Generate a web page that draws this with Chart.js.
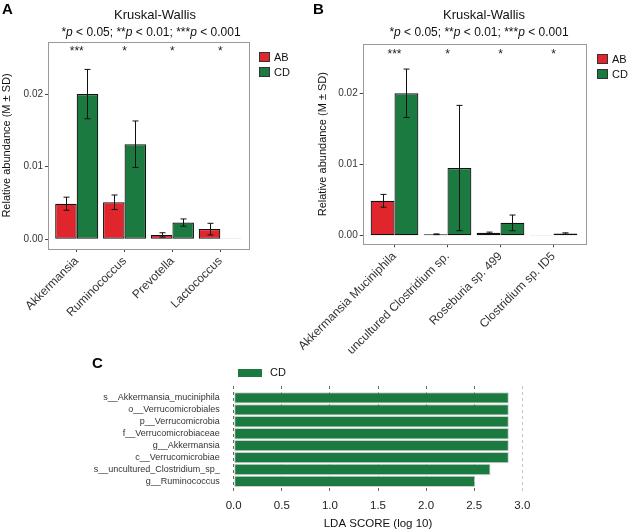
<!DOCTYPE html>
<html>
<head>
<meta charset="utf-8">
<script src="https://cdn.jsdelivr.net/npm/chart.js@4"></script>
<style>
  body { margin: 0; background: #fff; font-family: "Liberation Sans", Arial, sans-serif; }
  #wrap { position: relative; width: 630px; height: 531px; overflow: hidden; }
  canvas { position: absolute; }
  .tag { position: absolute; font-weight: bold; font-size: 15px; line-height: 1; color: #000; }
  .ttl { position: absolute; white-space: nowrap; transform: translateX(-50%); color: #111; }
  .t1 { font-size: 13px; line-height: 15px; }
  .t2 { font-size: 12px; line-height: 14px; }
</style>
</head>
<body>
<div id="wrap">
  <canvas id="chart-lda" width="630" height="179" style="left:0;top:352px"></canvas>
  <canvas id="chart-genus" width="310" height="372" style="left:0;top:0"></canvas>
  <canvas id="chart-species" width="380" height="372" style="left:250px;top:0"></canvas>
  <div class="tag" style="left:2px;top:1px">A</div>
  <div class="ttl t1" style="left:155px;top:7px">Kruskal-Wallis</div>
  <div class="ttl t2" style="left:151px;top:25px">*<i>p</i> &lt; 0.05; **<i>p</i> &lt; 0.01; ***<i>p</i> &lt; 0.001</div>
  <div class="tag" style="left:313px;top:1px">B</div>
  <div class="ttl t1" style="left:484px;top:7px">Kruskal-Wallis</div>
  <div class="ttl t2" style="left:479px;top:25px">*<i>p</i> &lt; 0.05; **<i>p</i> &lt; 0.01; ***<i>p</i> &lt; 0.001</div>
  <div class="tag" style="left:92px;top:355px">C</div>
</div>
<script>
// Panel A: genus level
const genusCats = ['Akkermansia', 'Ruminococcus', 'Prevotella', 'Lactococcus'];
const genusAB = [0.0049, 0.0051, 0.0006, 0.0014];
const genusABsd = [0.0009, 0.0010, 0.0003, 0.0008];
const genusCD = [0.0200, 0.0131, 0.0023, 0.00005];
const genusCDsd = [0.0034, 0.0032, 0.0005, 0];
const genusStars = ['***', '*', '*', '*'];

// Panel B: species level
const speciesCats = ['Akkermansia Muciniphila', 'uncultured Clostridium sp.', 'Roseburia sp. 499', 'Clostridium sp. ID5'];
const speciesAB = [0.0049, 0.0002, 0.0004, 0.00003];
const speciesABsd = [0.0009, 0.00005, 0.0001, 0];
const speciesCD = [0.0200, 0.0095, 0.0018, 0.0003];
const speciesCDsd = [0.0034, 0.0088, 0.0011, 0.0001];
const speciesStars = ['***', '*', '*', '*'];

// Panel C: LEfSe
const ldaLabels = [
  's__Akkermansia_muciniphila',
  'o__Verrucomicrobiales',
  'p__Verrucomicrobia',
  'f__Verrucomicrobiaceae',
  'g__Akkermansia',
  'c__Verrucomicrobiae',
  's__uncultured_Clostridium_sp_',
  'g__Ruminococcus'
];
const ldaScores = [2.86, 2.86, 2.86, 2.86, 2.86, 2.86, 2.67, 2.51];

const RED = '#e1252c';
const GREEN = '#1b7a3f';
const FONT = '"Liberation Sans", Arial, sans-serif';

Chart.defaults.font.family = FONT;

// Error bars (mean ± SD)
const errorBars = {
  id: 'errorBars',
  afterDatasetsDraw(chart) {
    const ctx = chart.ctx;
    const y = chart.scales.y;
    ctx.save();
    ctx.strokeStyle = '#111';
    ctx.lineWidth = 1;
    chart.data.datasets.forEach((ds, i) => {
      const meta = chart.getDatasetMeta(i);
      meta.data.forEach((bar, j) => {
        const sd = ds.errors[j];
        if (!sd) return;
        const v = ds.data[j].y;
        const top = y.getPixelForValue(v + sd);
        const bot = y.getPixelForValue(v - sd);
        const x = Math.round(bar.x) + 0.5;
        ctx.beginPath();
        ctx.moveTo(x, top); ctx.lineTo(x, bot);
        ctx.moveTo(x - 3, top); ctx.lineTo(x + 3, top);
        ctx.moveTo(x - 3, bot); ctx.lineTo(x + 3, bot);
        ctx.stroke();
      });
    });
    ctx.restore();
  }
};

// Panel frame, significance stars and legend
const panelDecor = {
  id: 'panelDecor',
  afterDraw(chart, args, opts) {
    const ctx = chart.ctx;
    const a = chart.chartArea;
    ctx.save();
    ctx.strokeStyle = '#9a9a9a';
    ctx.lineWidth = 1;
    ctx.strokeRect(Math.round(a.left) + 0.5, Math.round(a.top) + 0.5, Math.round(a.width), Math.round(a.height));

    ctx.fillStyle = '#222';
    ctx.font = '12px ' + FONT;
    ctx.textAlign = 'center';
    ctx.textBaseline = 'alphabetic';
    opts.stars.forEach((s, i) => {
      ctx.fillText(s, chart.scales.x.getPixelForValue(i), a.top + opts.starY);
    });

    ctx.font = '11px ' + FONT;
    ctx.textBaseline = 'middle';
    chart.data.datasets.forEach((ds, i) => {
      const bx = Math.round(a.right + opts.legendX);
      const by = Math.round(a.top + opts.legendY + i * 15);
      ctx.fillStyle = ds.backgroundColor;
      ctx.fillRect(bx, by, 11, 10);
      ctx.strokeStyle = '#333';
      ctx.strokeRect(bx + 0.5, by + 0.5, 10, 9);
      ctx.fillStyle = '#111';
      ctx.textAlign = 'left';
      ctx.fillText(ds.label, bx + 15, by + 5.5);
    });
    ctx.restore();
  }
};

function abundanceChart(id, cats, ab, abSd, cd, cdSd, stars, L) {
  const barOpts = {
    categoryPercentage: 0.9,
    barPercentage: 1,
    borderColor: '#111',
    borderWidth: 1.2,
    borderSkipped: false,
    inflateAmount: 0
  };
  return new Chart(document.getElementById(id), {
    type: 'bar',
    data: {
      datasets: [
        { label: 'AB', data: ab.map((v, i) => ({ x: i, y: v })), errors: abSd, backgroundColor: RED, ...barOpts },
        { label: 'CD', data: cd.map((v, i) => ({ x: i, y: v })), errors: cdSd, backgroundColor: GREEN, ...barOpts }
      ]
    },
    options: {
      responsive: false,
      animation: false,
      events: [],
      layout: { padding: { top: L.top, right: L.right, left: L.left, bottom: 0 } },
      plugins: {
        legend: { display: false },
        tooltip: { enabled: false },
        panelDecor: { stars, starY: L.starY, legendX: L.legendX, legendY: L.legendY }
      },
      scales: {
        x: {
          type: 'linear',
          offset: false,
          min: -0.6,
          max: cats.length - 0.4,
          afterFit: (s) => { s.height = L.xHeight; s.paddingLeft = 0; s.paddingRight = 0; },
          grid: { display: true, offset: false, drawOnChartArea: false, tickLength: 3, color: '#444' },
          border: { display: false },
          ticks: {
            stepSize: 1,
            includeBounds: false,
            autoSkip: false,
            minRotation: 45,
            maxRotation: 45,
            padding: 2,
            color: '#333',
            font: { size: 12 },
            callback: (v) => cats[v]
          }
        },
        y: {
          min: L.yMin,
          max: L.yMax,
          afterFit: (s) => { s.width = L.yWidth; },
          grid: { display: true, drawOnChartArea: false, tickLength: 3, color: '#444' },
          border: { display: false },
          title: {
            display: true,
            text: 'Relative abundance (M ± SD)',
            color: '#111',
            font: { size: 11 },
            padding: { top: L.titlePad, bottom: 0 }
          },
          ticks: {
            stepSize: 0.01,
            includeBounds: false,
            padding: 2,
            color: '#333',
            font: { size: 10 },
            callback: (v) => v.toFixed(2)
          }
        }
      }
    },
    plugins: [errorBars, panelDecor]
  });
}

abundanceChart('chart-genus', genusCats, genusAB, genusABsd, genusCD, genusCDsd, genusStars, {
  top: 42, right: 61, left: 0, yWidth: 48, xHeight: 123, yMin: -0.00134, yMax: 0.02718,
  titlePad: 0, starY: 13, legendX: 10, legendY: 10
});

abundanceChart('chart-species', speciesCats, speciesAB, speciesABsd, speciesCD, speciesCDsd, speciesStars, {
  top: 44, right: 44.7, left: 60, yWidth: 52.7, xHeight: 127.7, yMin: -0.00121, yMax: 0.02692,
  titlePad: 6, starY: 14, legendX: 12, legendY: 10
});

// LEfSe legend
const ldaLegend = {
  id: 'ldaLegend',
  afterDraw(chart) {
    const ctx = chart.ctx;
    const a = chart.chartArea;
    ctx.save();
    ctx.fillStyle = GREEN;
    ctx.fillRect(Math.round(a.left) + 4, Math.round(a.top) - 17, 24, 8);
    ctx.fillStyle = '#111';
    ctx.font = '11px ' + FONT;
    ctx.textBaseline = 'middle';
    ctx.fillText(chart.data.datasets[0].label, Math.round(a.left) + 36, Math.round(a.top) - 13);
    ctx.restore();
  }
};

new Chart(document.getElementById('chart-lda'), {
  type: 'bar',
  data: {
    datasets: [{
      label: 'CD',
      data: ldaScores.map((v, i) => ({ x: v, y: i })),
      backgroundColor: GREEN,
      borderColor: '#cfcfcf',
      borderWidth: 1,
      borderSkipped: false,
      categoryPercentage: 1,
      barPercentage: 0.95
    }]
  },
  options: {
    indexAxis: 'y',
    responsive: false,
    animation: false,
    events: [],
    layout: { padding: { top: 34, right: 107.7, left: 0, bottom: 0 } },
    plugins: { legend: { display: false }, tooltip: { enabled: false } },
    scales: {
      x: {
        type: 'linear',
        min: 0,
        max: 3,
        afterFit: (s) => { s.height = 39.3; },
        grid: {
          drawTicks: false,
          lineWidth: 1,
          color: (c) => (c.tick && c.tick.value === 3 ? '#c4c4c4' : '#6a6a6a')
        },
        border: { display: false, dash: [3, 3] },
        title: {
          display: true,
          text: 'LDA SCORE (log 10)',
          color: '#111',
          font: { size: 11.5 },
          padding: { top: 0, bottom: 0 }
        },
        ticks: {
          stepSize: 0.5,
          padding: 7,
          color: '#222',
          font: { size: 11.5 },
          callback: (v) => v.toFixed(1)
        }
      },
      y: {
        type: 'linear',
        offset: false,
        reverse: true,
        min: -1,
        max: 7.86,
        afterFit: (s) => { s.width = 233.7; },
        grid: { display: false, offset: false },
        border: { display: false },
        ticks: {
          stepSize: 1,
          includeBounds: false,
          autoSkip: false,
          padding: 6,
          color: '#333',
          font: { size: 9 },
          callback: (v) => ldaLabels[v]
        }
      }
    }
  },
  plugins: [ldaLegend]
});
</script>
</body>
</html>
